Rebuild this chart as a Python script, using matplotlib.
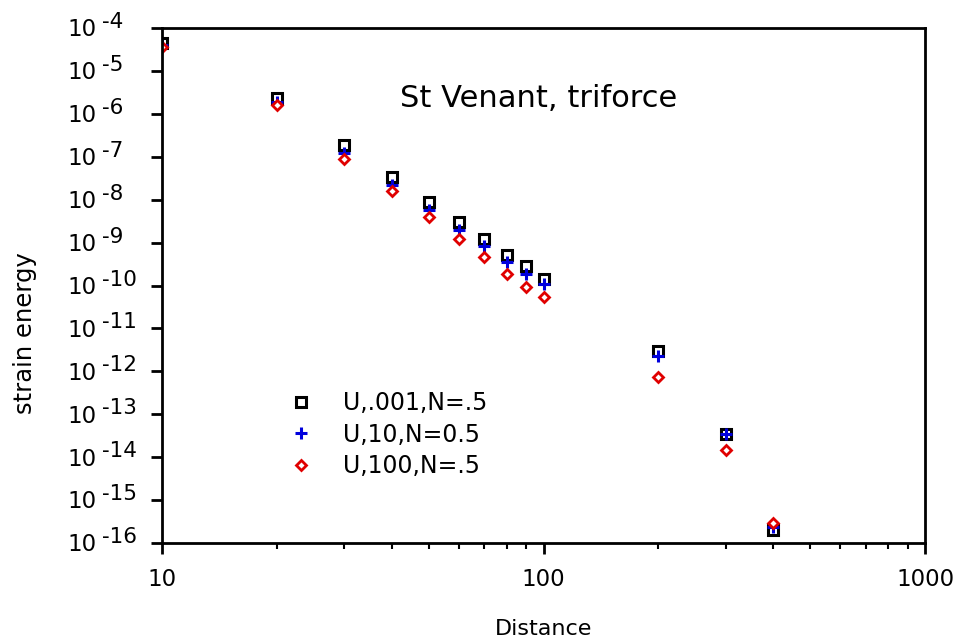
import matplotlib
matplotlib.use("Agg")
import matplotlib.pyplot as plt
import matplotlib.transforms as mtransforms
import numpy as np

plt.rcParams['font.family'] = ['DejaVu Sans']

distance = [10, 20, 30, 40, 50, 60, 70, 80, 90, 100, 200, 300, 400]
u_001 = [4.5e-5, 2.4e-6, 1.85e-7, 3.3e-8, 8.9e-9, 2.95e-9, 1.23e-9, 5.1e-10, 2.9e-10, 1.43e-10, 3.0e-12, 3.55e-14, 2.05e-16]
u_10 = [4.0e-5, 1.9e-6, 1.2e-7, 2.2e-8, 5.7e-9, 2.0e-9, 8.3e-10, 3.45e-10, 1.9e-10, 1.06e-10, 2.26e-12, 3.5e-14, 2.3e-16]
u_100 = [3.6e-5, 1.58e-6, 9.0e-8, 1.6e-8, 3.9e-9, 1.23e-9, 4.5e-10, 1.9e-10, 9.3e-11, 5.3e-11, 7.2e-13, 1.5e-14, 2.85e-16]

labels = ["U,.001,N=.5", "U,10,N=0.5", "U,100,N=.5"]
x_ticks = [10, 100, 1000]
x_tick_labels = ["10", "100", "1000"]
y_exponents = list(range(-16, -3))

fig = plt.figure(figsize=(9.6, 6.43), dpi=100)
ax = fig.add_axes([162/960, 1-543/643, (925-162)/960, (543-28)/643])

ax.plot(distance, u_001, linestyle='none', marker='s', ms=7, mew=2.2,
        mec='black', mfc='none', label=labels[0])
ax.plot(distance, u_10, linestyle='none', marker='+', ms=8, mew=2.2,
        mec='#0000dd', label=labels[1])
ax.plot(distance, u_100, linestyle='none', marker='D', ms=5.2, mew=2.0,
        mec='#e00000', mfc='white', label=labels[2])

ax.set_xscale('log')
ax.set_yscale('log')
ax.set_xlim(10, 1000)
ax.set_ylim(1e-16, 1e-4)

for s in ax.spines.values():
    s.set_linewidth(2)
    s.set_color('black')

ax.set_xticks(x_ticks)
ax.set_xticklabels(x_tick_labels, fontsize=16.5)
ax.xaxis.set_minor_locator(matplotlib.ticker.LogLocator(base=10, subs=np.arange(2, 10)))
ax.xaxis.set_minor_formatter(matplotlib.ticker.NullFormatter())
ax.tick_params(axis='x', which='major', direction='out', length=8, width=2, pad=10, top=False)
ax.tick_params(axis='x', which='minor', direction='out', length=4, width=1.5, top=False)

ax.set_yticks([10.0**k for k in y_exponents])
ax.set_yticklabels([])
ax.yaxis.set_minor_locator(matplotlib.ticker.LogLocator(base=10, subs=np.arange(2, 10)))
ax.yaxis.set_minor_formatter(matplotlib.ticker.NullFormatter())
ax.tick_params(axis='y', which='major', direction='out', length=8, width=2, right=False)
ax.tick_params(axis='y', which='minor', direction='out', length=4, width=1.2, right=False)

blend = mtransforms.blended_transform_factory(fig.transFigure, ax.transData)
for k in y_exponents:
    ax.annotate("10", xy=(97/960, 10.0**k), xycoords=blend, xytext=(0, -6),
                textcoords='offset points', ha='right', va='baseline', fontsize=16.5,
                annotation_clip=False)
    ax.annotate("-" + str(abs(k)), xy=(102/960, 10.0**k), xycoords=blend, xytext=(0, 0),
                textcoords='offset points', ha='left', va='baseline', fontsize=15.5,
                annotation_clip=False)

ax.set_xlabel("Distance", fontsize=16, labelpad=20)
fig.text(25/960, 1-333/643, "strain energy", rotation=90, fontsize=17.5,
         ha='center', va='center')

ax.text(0.493, 0.864, "St Venant, triforce", transform=ax.transAxes,
        fontsize=22, ha='center', va='center')

ax.legend(loc='upper left', bbox_to_anchor=(289/960, 1-391/643),
          bbox_transform=fig.transFigure, frameon=False, fontsize=17,
          handlelength=1.0, handletextpad=1.3, labelspacing=0.32,
          borderpad=0, borderaxespad=0, numpoints=1)

fig.savefig("out.png", dpi=100)
